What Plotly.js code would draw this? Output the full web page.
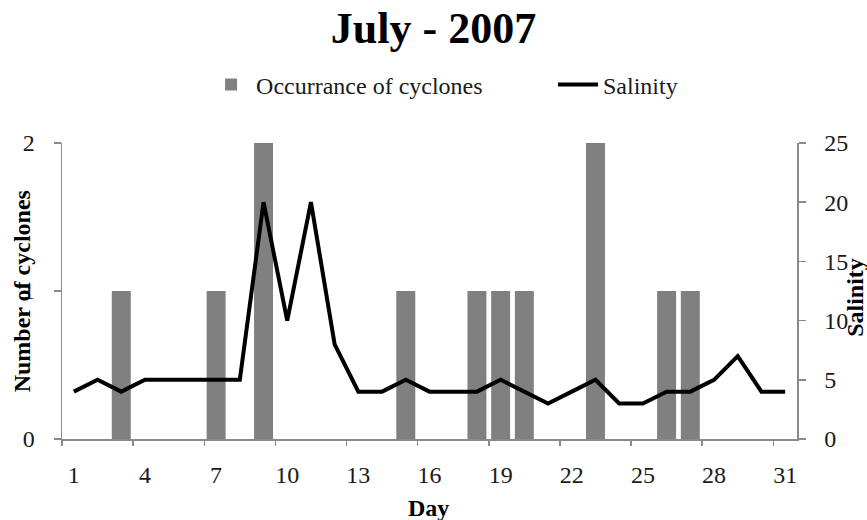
<!DOCTYPE html>
<html>
<head>
<meta charset="utf-8">
<script src="https://cdn.plot.ly/plotly-3.0.1.min.js"></script>
<style>html,body{margin:0;padding:0;background:#fff}#chart{width:867px;height:520px}</style>
</head>
<body>
<div id="chart"></div>
<script>
const days = [1,2,3,4,5,6,7,8,9,10,11,12,13,14,15,16,17,18,19,20,21,22,23,24,25,26,27,28,29,30,31];
const salinity = [4,5,4,5,5,5,5,5,20,10,20,8,4,4,5,4,4,4,5,4,3,4,5,3,3,4,4,5,7,4,4];
const cycloneDays = [3,7,9,15,18,19,20,23,26,27];
const cycloneCounts = [1,1,2,1,1,1,1,2,1,1];
const dayTickLabels = [1,4,7,10,13,16,19,22,25,28,31];
const leftTicks = [0,1,2];
const rightTicks = [0,5,10,15,20,25];

const FONT = '"Liberation Serif", "Times New Roman", serif';
const AXIS = '#8a8a8a';

const traces = [
  {
    type: 'bar', name: 'Occurrance of cyclones', legend: 'legend',
    x: cycloneDays, y: cycloneCounts, width: 0.8,
    marker: {color: '#808080', line: {width: 0}},
    xaxis: 'x', yaxis: 'y'
  },
  {
    type: 'scatter', mode: 'lines', name: 'Salinity', legend: 'legend2',
    x: days, y: salinity,
    line: {color: '#000000', width: 4},
    xaxis: 'x', yaxis: 'y2'
  }
];

const legendStyle = {
  orientation: 'h', xanchor: 'left', yanchor: 'middle', y: 1.196,
  font: {family: FONT, size: 24, color: '#1a1a1a'}, bgcolor: 'rgba(0,0,0,0)', itemwidth: 40
};

const layout = {
  width: 867, height: 520,
  margin: {l: 62, r: 70, t: 143, b: 81},
  paper_bgcolor: '#ffffff', plot_bgcolor: '#ffffff',
  font: {family: FONT, size: 24, color: '#1a1a1a'},
  showlegend: true,
  title: {text: '<b>July - 2007</b>', x: 0.5, xanchor: 'center', y: 0.946, yanchor: 'middle',
          font: {family: FONT, size: 44, color: '#000'}},
  legend: Object.assign({}, legendStyle, {x: 0.196}),
  legend2: Object.assign({}, legendStyle, {x: 0.668}),
  xaxis: {
    range: [0.5, 31.5], showgrid: false, zeroline: false,
    showline: true, linecolor: AXIS, linewidth: 1.5,
    tickmode: 'array', tickvals: dayTickLabels, ticktext: dayTickLabels.map(String),
    ticks: '', ticklabelstandoff: 14,
    minor: {tickmode: 'linear', tick0: 0.5, dtick: 3, ticks: 'outside', ticklen: 5, tickcolor: AXIS, tickwidth: 1.5},
    tickfont: {family: FONT, size: 24, color: '#1a1a1a'}
  },
  yaxis: {
    range: [0, 2], showgrid: false, zeroline: false,
    showline: true, linecolor: AXIS, linewidth: 1.5,
    tickmode: 'array', tickvals: leftTicks,
    ticks: 'outside', ticklen: 7, tickcolor: AXIS, tickwidth: 1.5,
    ticklabelstandoff: 14,
    tickfont: {family: FONT, size: 24, color: '#1a1a1a'}
  },
  yaxis2: {
    range: [0, 25], overlaying: 'y', side: 'right', showgrid: false, zeroline: false,
    showline: true, linecolor: AXIS, linewidth: 1.5,
    tickmode: 'array', tickvals: rightTicks,
    ticks: 'outside', ticklen: 7, tickcolor: AXIS, tickwidth: 1.5,
    ticklabelstandoff: 14,
    tickfont: {family: FONT, size: 24, color: '#1a1a1a'}
  },
  annotations: [
    {text: '<b>Number of cyclones</b>', xref: 'paper', yref: 'paper', x: -0.054, y: 0.5,
     xanchor: 'center', yanchor: 'middle', textangle: -90, showarrow: false,
     font: {family: FONT, size: 24, color: '#000'}},
    {text: '<b>Salinity</b>', xref: 'paper', yref: 'paper', x: 1.079, y: 0.477,
     xanchor: 'center', yanchor: 'middle', textangle: -90, showarrow: false,
     font: {family: FONT, size: 24, color: '#000'}},
    {text: '<b>Day</b>', xref: 'paper', yref: 'paper', x: 0.499, y: -0.232,
     xanchor: 'center', yanchor: 'middle', showarrow: false,
     font: {family: FONT, size: 24, color: '#000'}}
  ],
  bargap: 0.2
};

Plotly.newPlot('chart', traces, layout, {staticPlot: true, displayModeBar: false});
</script>
</body>
</html>
